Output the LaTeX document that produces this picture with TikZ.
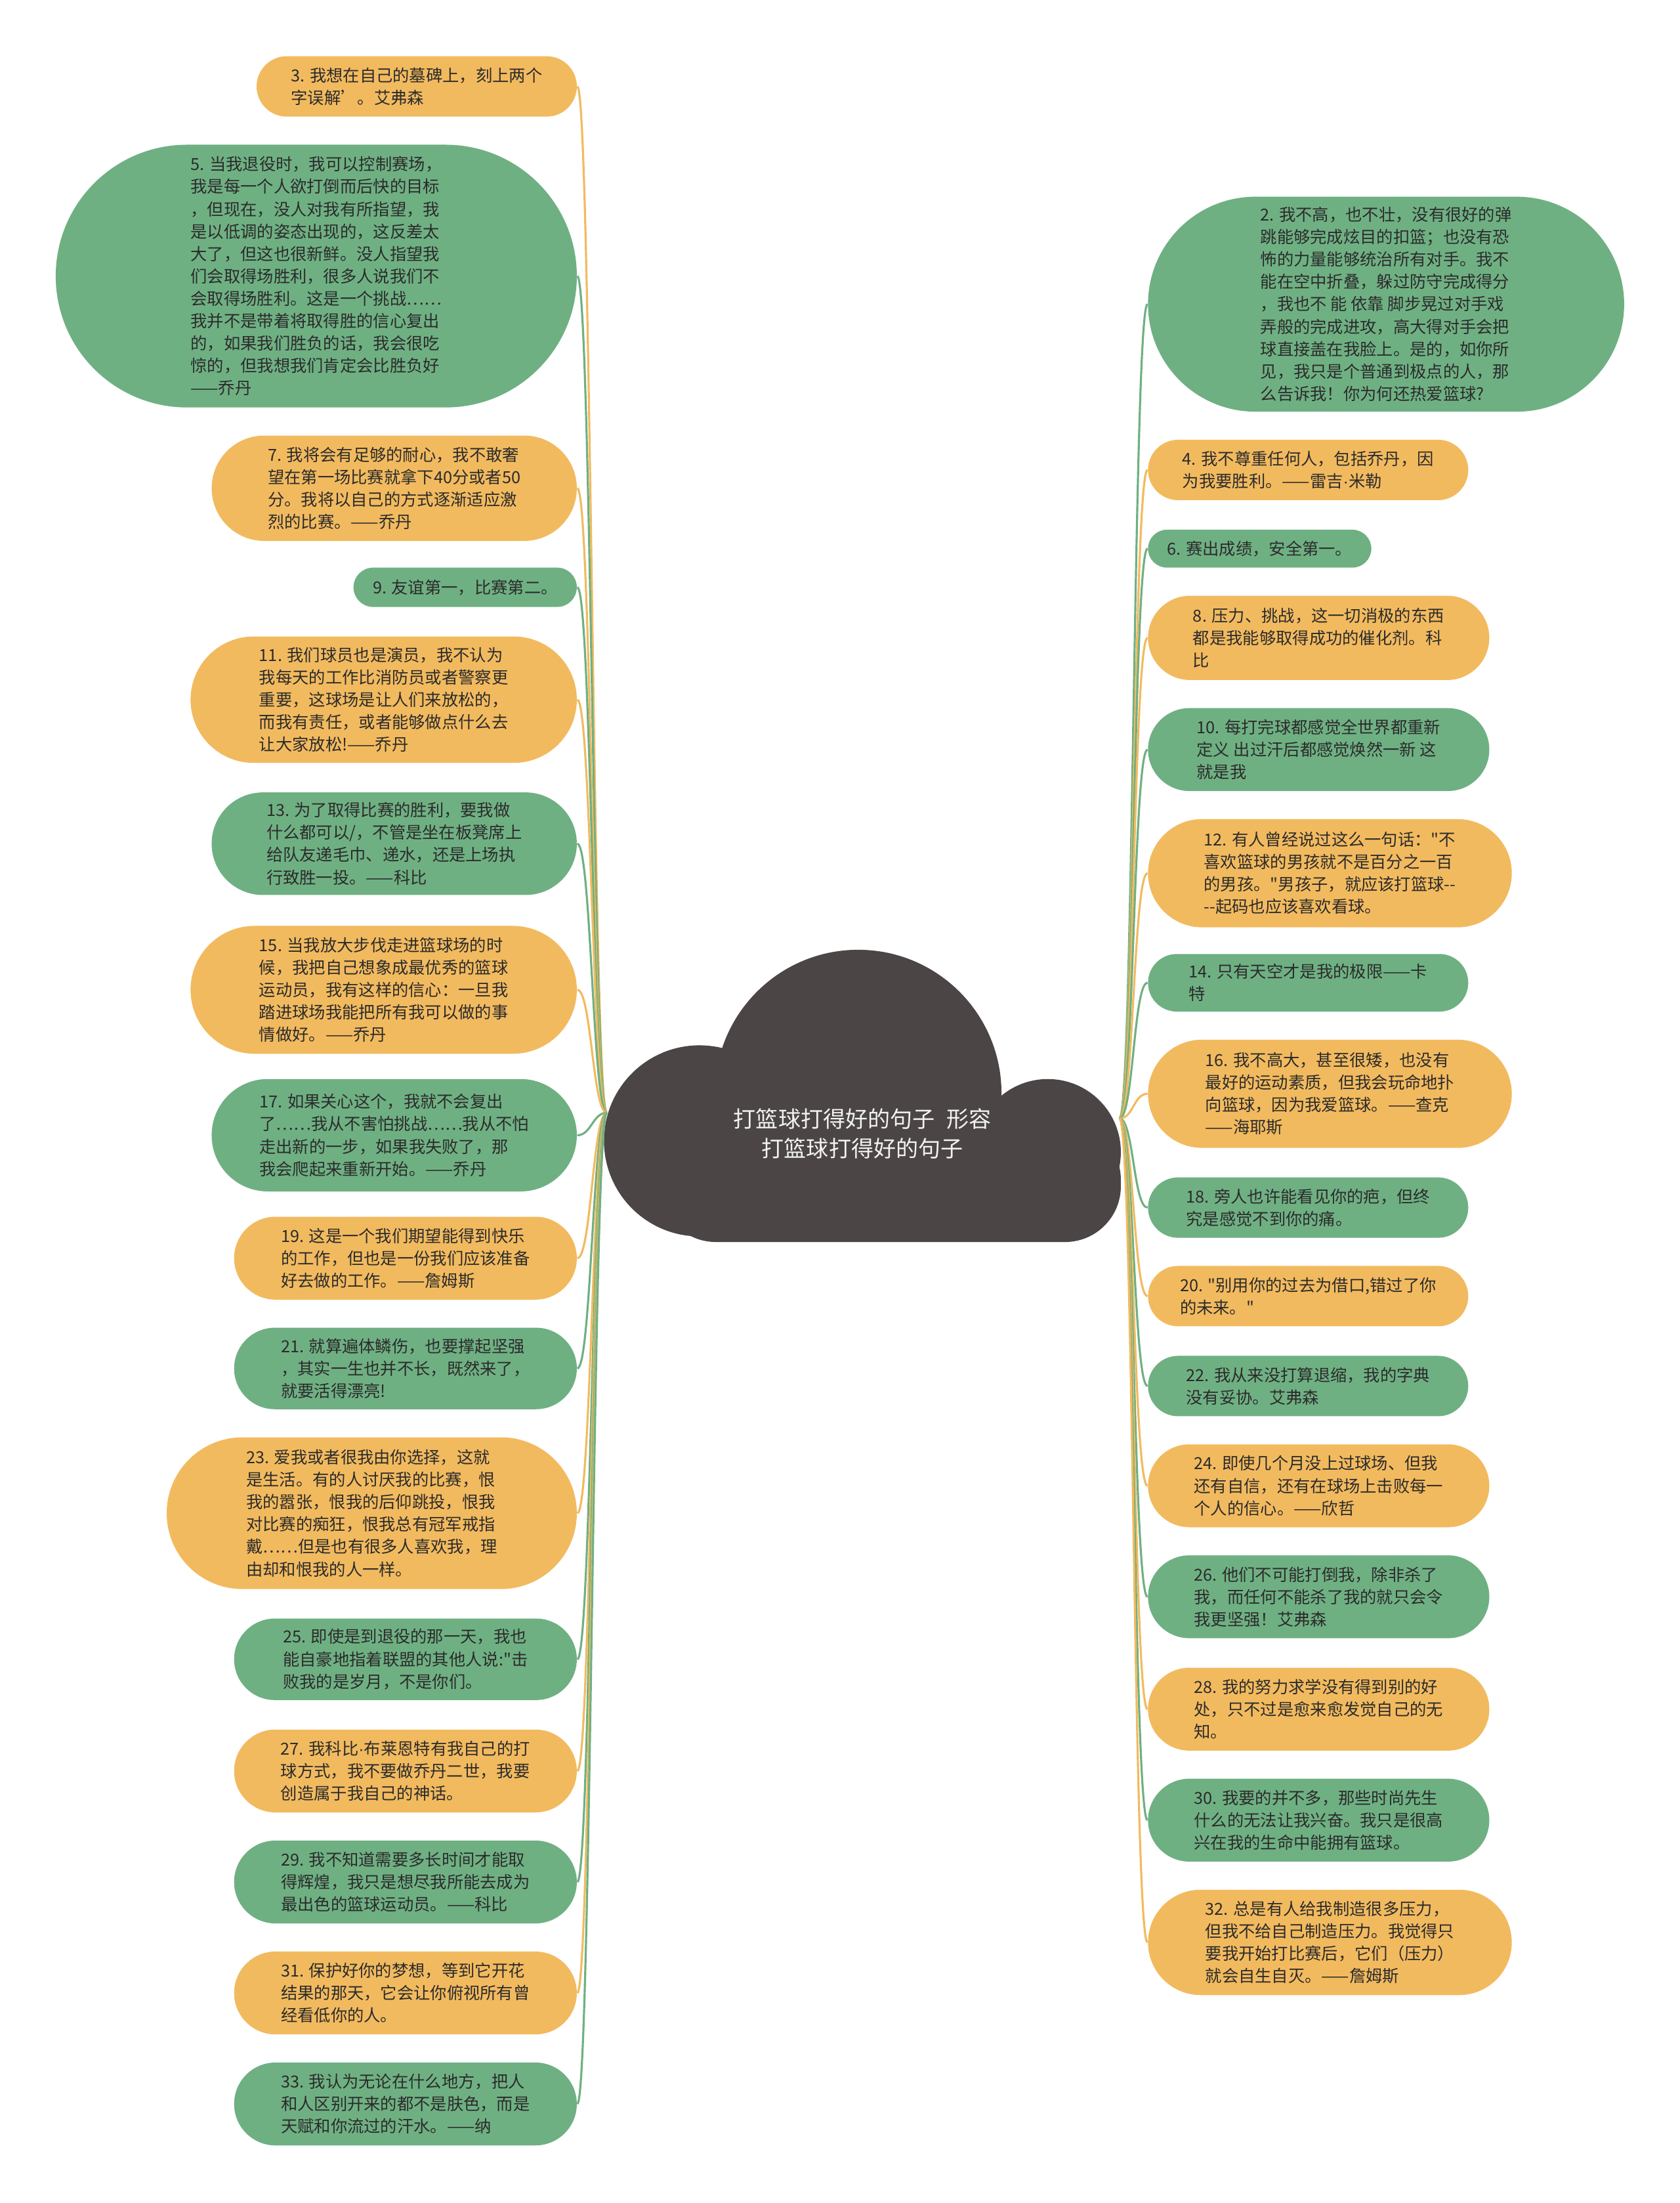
\documentclass[tikz,border=0pt]{standalone}
\usepackage{fontspec}
\setmainfont{Noto Sans CJK SC}[Ligatures=TeXOff]
\newfontfamily\dotfont{Liberation Sans}
\usetikzlibrary{positioning}

\definecolor{qorange}{HTML}{F2BA5F}
\definecolor{qgreen}{HTML}{6FB083}
\definecolor{qtext}{HTML}{2B2B2B}
\definecolor{cloudgray}{HTML}{4B4545}

\newcommand{\pxu}{0.021405cm}
\newcommand{\qfont}{\fontsize{7.2pt}{9.7pt}\selectfont}
\newcommand{\rootfont}{\fontsize{9.7pt}{12.8pt}\selectfont}
\newcommand{\mdot}{{\dotfont ·}}

\begin{document}
\begin{tikzpicture}[
  x=\pxu, y=-\pxu,
  qbox/.style={rectangle,inner sep=0pt,align=left,font=\qfont,text=qtext},
  pill/.style 2 args={minimum width=#1*\pxu,minimum height=#2*\pxu,
                      rounded corners=#2*0.5*\pxu},
  qleft/.style={qbox,anchor=east},
  qright/.style={qbox,anchor=west},
  ornode/.style={fill=qorange},
  grnode/.style={fill=qgreen},
  linko/.style={draw=qorange,line width=0.9pt},
  linkg/.style={draw=qgreen,line width=0.9pt}
]
\fill[white] (0,0) rectangle (1196,1568);
\useasboundingbox (0,0) rectangle (1196,1568);

% cloud in the middle
\fill[cloudgray] (611,778) circle[radius=102];
\fill[cloudgray] (498,812) circle[radius=68];
\fill[cloudgray] (746,820) circle[radius=52];
\fill[cloudgray,rounded corners=0.85cm] (470,800) rectangle (798,884);
\node[font=\rootfont,text=white!95!black,align=center] (root) at (614,807)
  {打篮球打得好的句子\hspace{5pt}形容\\打篮球打得好的句子};
\coordinate (ljoin) at (432,792);
\coordinate (rjoin) at (797,796);

% left side
\node[qleft,ornode,pill={228}{43}] (q3) at (411,61.5)
  {3. 我想在自己的墓碑上，刻上两个\\字误解’。艾弗森};
\node[qleft,grnode,pill={371}{187}] (q5) at (411,196.5)
  {5. 当我退役时，我可以控制赛场，\\我是每一个人欲打倒而后快的目标\\，但现在，没人对我有所指望，我\\是以低调的姿态出现的，这反差太\\大了，但这也很新鲜。没人指望我\\们会取得场胜利，很多人说我们不\\会取得场胜利。这是一个挑战……\\我并不是带着将取得胜的信心复出\\的，如果我们胜负的话，我会很吃\\惊的，但我想我们肯定会比胜负好\\——乔丹};
\node[qleft,ornode,pill={260}{75}] (q7) at (411,347.5)
  {7. 我将会有足够的耐心，我不敢奢\\望在第一场比赛就拿下40分或者50\\分。我将以自己的方式逐渐适应激\\烈的比赛。——乔丹};
\node[qleft,grnode,pill={159}{28}] (q9) at (411,418)
  {9. 友谊第一，比赛第二。};
\node[qleft,ornode,pill={275}{90}] (q11) at (411,498)
  {11. 我们球员也是演员，我不认为\\我每天的工作比消防员或者警察更\\重要，这球场是让人们来放松的，\\而我有责任，或者能够做点什么去\\让大家放松!——乔丹};
\node[qleft,grnode,pill={260}{73}] (q13) at (411,600.5)
  {13. 为了取得比赛的胜利，要我做\\什么都可以/，不管是坐在板凳席上\\给队友递毛巾、递水，还是上场执\\行致胜一投。——科比};
\node[qleft,ornode,pill={275}{91}] (q15) at (411,704.5)
  {15. 当我放大步伐走进篮球场的时\\候，我把自己想象成最优秀的篮球\\运动员，我有这样的信心：一旦我\\踏进球场我能把所有我可以做的事\\情做好。——乔丹};
\node[qleft,grnode,pill={260}{80}] (q17) at (411,808)
  {17. 如果关心这个，我就不会复出\\了……我从不害怕挑战……我从不怕\\走出新的一步，如果我失败了，那\\我会爬起来重新开始。——乔丹};
\node[qleft,ornode,pill={244}{59}] (q19) at (411,895.5)
  {19. 这是一个我们期望能得到快乐\\的工作，但也是一份我们应该准备\\好去做的工作。——詹姆斯};
\node[qleft,grnode,pill={244}{58}] (q21) at (411,974)
  {21. 就算遍体鳞伤，也要撑起坚强\\，其实一生也并不长，既然来了，\\就要活得漂亮!};
\node[qleft,ornode,pill={292}{108}] (q23) at (411,1077)
  {23. 爱我或者很我由你选择，这就\\是生活。有的人讨厌我的比赛，恨\\我的嚣张，恨我的后仰跳投，恨我\\对比赛的痴狂，恨我总有冠军戒指\\戴……但是也有很多人喜欢我，理\\由却和恨我的人一样。};
\node[qleft,grnode,pill={244}{58}] (q25) at (411,1181)
  {25. 即使是到退役的那一天，我也\\能自豪地指着联盟的其他人说:"击\\败我的是岁月，不是你们。};
\node[qleft,ornode,pill={244}{59}] (q27) at (411,1260.5)
  {27. 我科比\mdot 布莱恩特有我自己的打\\球方式，我不要做乔丹二世，我要\\创造属于我自己的神话。};
\node[qleft,grnode,pill={244}{59}] (q29) at (411,1339.5)
  {29. 我不知道需要多长时间才能取\\得辉煌，我只是想尽我所能去成为\\最出色的篮球运动员。——科比};
\node[qleft,ornode,pill={244}{59}] (q31) at (411,1418.5)
  {31. 保护好你的梦想，等到它开花\\结果的那天，它会让你俯视所有曾\\经看低你的人。};
\node[qleft,grnode,pill={244}{59}] (q33) at (411,1497.5)
  {33. 我认为无论在什么地方，把人\\和人区别开来的都不是肤色，而是\\天赋和你流过的汗水。——纳};

% right side
\node[qright,grnode,pill={339}{153}] (q2) at (817,216.5)
  {2. 我不高，也不壮，没有很好的弹\\跳能够完成炫目的扣篮；也没有恐\\怖的力量能够统治所有对手。我不\\能在空中折叠，躲过防守完成得分\\，我也不 能 依靠 脚步晃过对手戏\\弄般的完成进攻，高大得对手会把\\球直接盖在我脸上。是的，如你所\\见，我只是个普通到极点的人，那\\么告诉我！你为何还热爱篮球?};
\node[qright,ornode,pill={228}{43}] (q4) at (817,334.5)
  {4. 我不尊重任何人，包括乔丹，因\\为我要胜利。——雷吉\mdot 米勒};
\node[qright,grnode,pill={159}{27}] (q6) at (817,390.5)
  {6. 赛出成绩，安全第一。};
\node[qright,ornode,pill={243}{60}] (q8) at (817,454)
  {8. 压力、挑战，这一切消极的东西\\都是我能够取得成功的催化剂。科\\比};
\node[qright,grnode,pill={243}{59}] (q10) at (817,533.5)
  {10. 每打完球都感觉全世界都重新\\定义 出过汗后都感觉焕然一新 这\\就是我};
\node[qright,ornode,pill={259}{77}] (q12) at (817,621.5)
  {12. 有人曾经说过这么一句话："不\\喜欢篮球的男孩就不是百分之一百\\的男孩。"男孩子，就应该打篮球--\\--起码也应该喜欢看球。};
\node[qright,grnode,pill={228}{41}] (q14) at (817,699.5)
  {14. 只有天空才是我的极限——卡\\特};
\node[qright,ornode,pill={259}{77}] (q16) at (817,778.5)
  {16. 我不高大，甚至很矮，也没有\\最好的运动素质，但我会玩命地扑\\向篮球，因为我爱篮球。——查克\\——海耶斯};
\node[qright,grnode,pill={228}{43}] (q18) at (817,859.5)
  {18. 旁人也许能看见你的疤，但终\\究是感觉不到你的痛。};
\node[qright,ornode,pill={228}{43}] (q20) at (817,922.5)
  {20. "别用你的过去为借口,错过了你\\的未来。"};
\node[qright,grnode,pill={228}{43}] (q22) at (817,986.5)
  {22. 我从来没打算退缩，我的字典\\没有妥协。艾弗森};
\node[qright,ornode,pill={243}{59}] (q24) at (817,1057.5)
  {24. 即使几个月没上过球场、但我\\还有自信，还有在球场上击败每一\\个人的信心。——欣哲};
\node[qright,grnode,pill={243}{59}] (q26) at (817,1136.5)
  {26. 他们不可能打倒我，除非杀了\\我，而任何不能杀了我的就只会令\\我更坚强！艾弗森};
\node[qright,ornode,pill={243}{59}] (q28) at (817,1216.5)
  {28. 我的努力求学没有得到别的好\\处，只不过是愈来愈发觉自己的无\\知。};
\node[qright,grnode,pill={243}{59}] (q30) at (817,1295.5)
  {30. 我要的并不多，那些时尚先生\\什么的无法让我兴奋。我只是很高\\兴在我的生命中能拥有篮球。};
\node[qright,ornode,pill={259}{75}] (q32) at (817,1382.5)
  {32. 总是有人给我制造很多压力，\\但我不给自己制造压力。我觉得只\\要我开始打比赛后，它们（压力）\\就会自生自灭。——詹姆斯};

% connectors, left
\draw[linko] (ljoin) .. controls +(-10,0) and +(10,0) .. (q3.east);
\draw[linkg] (ljoin) .. controls +(-10,0) and +(10,0) .. (q5.east);
\draw[linko] (ljoin) .. controls +(-10,0) and +(10,0) .. (q7.east);
\draw[linkg] (ljoin) .. controls +(-10,0) and +(10,0) .. (q9.east);
\draw[linko] (ljoin) .. controls +(-10,0) and +(10,0) .. (q11.east);
\draw[linkg] (ljoin) .. controls +(-10,0) and +(10,0) .. (q13.east);
\draw[linko] (ljoin) .. controls +(-10,0) and +(10,0) .. (q15.east);
\draw[linkg] (ljoin) .. controls +(-10,0) and +(10,0) .. (q17.east);
\draw[linko] (ljoin) .. controls +(-10,0) and +(10,0) .. (q19.east);
\draw[linkg] (ljoin) .. controls +(-10,0) and +(10,0) .. (q21.east);
\draw[linko] (ljoin) .. controls +(-10,0) and +(10,0) .. (q23.east);
\draw[linkg] (ljoin) .. controls +(-10,0) and +(10,0) .. (q25.east);
\draw[linko] (ljoin) .. controls +(-10,0) and +(10,0) .. (q27.east);
\draw[linkg] (ljoin) .. controls +(-10,0) and +(10,0) .. (q29.east);
\draw[linko] (ljoin) .. controls +(-10,0) and +(10,0) .. (q31.east);
\draw[linkg] (ljoin) .. controls +(-10,0) and +(10,0) .. (q33.east);

% connectors, right
\draw[linkg] (rjoin) .. controls +(10,0) and +(-10,0) .. (q2.west);
\draw[linko] (rjoin) .. controls +(10,0) and +(-10,0) .. (q4.west);
\draw[linkg] (rjoin) .. controls +(10,0) and +(-10,0) .. (q6.west);
\draw[linko] (rjoin) .. controls +(10,0) and +(-10,0) .. (q8.west);
\draw[linkg] (rjoin) .. controls +(10,0) and +(-10,0) .. (q10.west);
\draw[linko] (rjoin) .. controls +(10,0) and +(-10,0) .. (q12.west);
\draw[linkg] (rjoin) .. controls +(10,0) and +(-10,0) .. (q14.west);
\draw[linko] (rjoin) .. controls +(10,0) and +(-10,0) .. (q16.west);
\draw[linkg] (rjoin) .. controls +(10,0) and +(-10,0) .. (q18.west);
\draw[linko] (rjoin) .. controls +(10,0) and +(-10,0) .. (q20.west);
\draw[linkg] (rjoin) .. controls +(10,0) and +(-10,0) .. (q22.west);
\draw[linko] (rjoin) .. controls +(10,0) and +(-10,0) .. (q24.west);
\draw[linkg] (rjoin) .. controls +(10,0) and +(-10,0) .. (q26.west);
\draw[linko] (rjoin) .. controls +(10,0) and +(-10,0) .. (q28.west);
\draw[linkg] (rjoin) .. controls +(10,0) and +(-10,0) .. (q30.west);
\draw[linko] (rjoin) .. controls +(10,0) and +(-10,0) .. (q32.west);
\end{tikzpicture}
\end{document}
